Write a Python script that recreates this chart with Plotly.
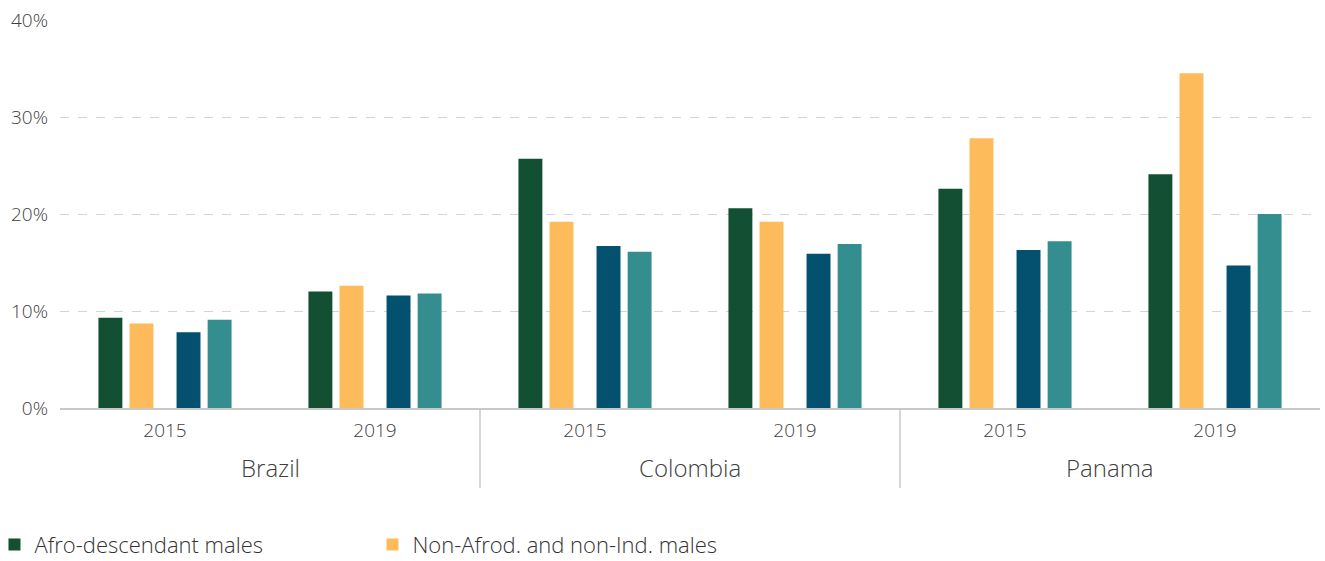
import plotly.graph_objects as go

countries = ["Brazil", "Colombia", "Panama"]
years = ["2015", "2019"]
y_tick_values = [0, 10, 20, 30, 40]
y_tick_labels = ["0%", "10%", "20%", "30%", "40%"]

series_names = [
    "Afro-descendant males",
    "Non-Afrod. and non-Ind. males",
    "Afro-descendant females",
    "Non-Afrod. and non-Ind. females",
]
# values per (country, year): Brazil 2015, Brazil 2019, Colombia 2015, Colombia 2019, Panama 2015, Panama 2019
afro_males = [9.3, 12.0, 25.7, 20.6, 22.6, 24.1]
non_afro_males = [8.7, 12.6, 19.2, 19.2, 27.8, 34.5]
afro_females = [7.8, 11.6, 16.7, 15.9, 16.3, 14.7]
non_afro_females = [9.1, 11.8, 16.1, 16.9, 17.2, 20.0]

series_values = [afro_males, non_afro_males, afro_females, non_afro_females]
colors = ["#124F33", "#FDBB5C", "#03506F", "#348D8E"]
offsets = [-0.317, -0.169, 0.055, 0.203]
bar_width = 0.114
# only the first legend row is visible in the reference
in_legend = [True, True, False, False]

# group positions along the x axis (one slot per country/year)
group_countries = [c for c in countries for _ in years]
group_years = [y for _ in countries for y in years]
group_pos = list(range(len(group_years)))

fig = go.Figure()
for name, vals, col, off, lg in zip(series_names, series_values, colors, offsets, in_legend):
    fig.add_trace(go.Bar(
        name=name,
        x=group_pos,
        y=vals,
        customdata=[[c, y] for c, y in zip(group_countries, group_years)],
        marker=dict(color=col, line=dict(width=0)),
        offset=off,
        width=bar_width,
        showlegend=lg,
        hovertemplate="%{customdata[0]} %{customdata[1]}: %{y:.1f}%<extra>" + name + "</extra>",
    ))

# country labels and separators between countries
n_years = len(years)
for i, c in enumerate(countries):
    center = i * n_years + (n_years - 1) / 2
    fig.add_annotation(
        x=center, xref="x", y=-0.1546, yref="paper",
        text=c, showarrow=False, yanchor="middle",
        font=dict(family="Open Sans", size=24, color="#404040", weight=300),
    )
    if i > 0:
        sep = i * n_years - 0.5
        fig.add_shape(
            type="line", xref="x", yref="paper",
            x0=sep, x1=sep, y0=0, y1=-0.206,
            line=dict(color="#c8c8c8", width=1.5),
        )

fig.update_layout(
    width=1325,
    height=561,
    barmode="overlay",
    paper_bgcolor="white",
    plot_bgcolor="white",
    font=dict(family="Open Sans", size=19, color="#404040", weight=300),
    margin=dict(l=60, r=5, t=20, b=153, autoexpand=False),
    showlegend=True,
    legend=dict(
        x=-0.052, y=-0.298,
        orientation="h",
        xanchor="left",
        yanchor="top",
        font=dict(size=22, color="#333333", weight=300),
        entrywidth=333,
        entrywidthmode="pixels",
        traceorder="normal",
        bgcolor="rgba(0,0,0,0)",
    ),
    xaxis=dict(
        range=[-0.5, len(group_pos) - 0.5],
        tickvals=group_pos,
        ticktext=group_years,
        showline=True,
        linecolor="#c8c8c8",
        linewidth=1.5,
        showgrid=False,
        zeroline=False,
        ticks="",
        ticklabelstandoff=4,
        tickfont=dict(size=19, color="#404040", weight=300),
    ),
    yaxis=dict(
        range=[0, 40],
        tickvals=y_tick_values,
        ticktext=y_tick_labels,
        showgrid=True,
        gridcolor="#d4d4d4",
        griddash="dash",
        gridwidth=1,
        zeroline=False,
        showline=False,
        ticks="",
        ticklabelstandoff=11,
        tickfont=dict(size=19, color="#404040", weight=300),
    ),
)

fig.write_html("out.html")
